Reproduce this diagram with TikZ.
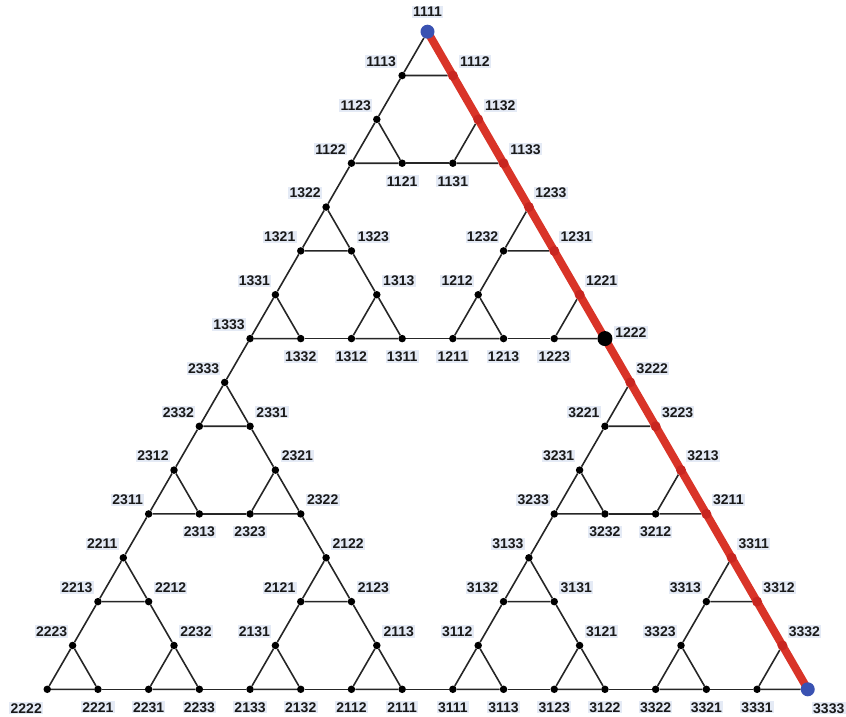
\documentclass[tikz,border=0pt]{standalone}
\usepackage{fontspec}
\setmainfont{Liberation Sans}
\usetikzlibrary{backgrounds}

\definecolor{pathred}{RGB}{217,52,40}
\definecolor{dotred}{RGB}{200,38,32}
\definecolor{endblue}{RGB}{58,82,178}
\definecolor{tagbg}{RGB}{228,234,245}
\definecolor{edgegray}{RGB}{38,38,38}

\begin{document}
\begin{tikzpicture}[
    x=1pt, y=-1pt,
    vtx/.style={circle, fill=black, inner sep=0pt, minimum size=7.5pt},
    vtxR/.style={circle, fill=dotred, inner sep=0pt, minimum size=10pt},
    vtxB/.style={circle, fill=endblue, inner sep=0pt, minimum size=14pt},
    vtxK/.style={circle, fill=black, inner sep=0pt, minimum size=15pt},
    edge/.style={draw=edgegray, line width=1.6pt},
    redpath/.style={draw=pathred, line width=8pt},
    tag/.style={fill=tagbg, text=black!90, inner sep=1.2pt,
                font=\fontsize{14}{14}\selectfont\bfseries},
    tagL/.style={shift={(-21,-14)}},
    tagR/.style={shift={(22,-14)}},
    tagB/.style={shift={(0,18)}},
    tagT/.style={shift={(0,-20)}},
    tagBL/.style={shift={(-21,19)}},
    tagBR/.style={shift={(21,19)}},
    tagE/.style={shift={(26,-6)}}
  ]
  \useasboundingbox (0,0) rectangle (846,717);

  % vertices: name / half-step / row / dot / label side
  \foreach \n/\i/\r/\d/\p in {
      1111/0/0/vtxB/tagT,
      1113/-1/1/vtx/tagL, 1112/1/1/vtxR/tagR,
      1123/-2/2/vtx/tagL, 1132/2/2/vtxR/tagR,
      1122/-3/3/vtx/tagL, 1121/-1/3/vtx/tagB, 1131/1/3/vtx/tagB,
      1133/3/3/vtxR/tagR,
      1322/-4/4/vtx/tagL, 1233/4/4/vtxR/tagR,
      1321/-5/5/vtx/tagL, 1323/-3/5/vtx/tagR, 1232/3/5/vtx/tagL,
      1231/5/5/vtxR/tagR,
      1331/-6/6/vtx/tagL, 1313/-2/6/vtx/tagR, 1212/2/6/vtx/tagL,
      1221/6/6/vtxR/tagR,
      1333/-7/7/vtx/tagL, 1332/-5/7/vtx/tagB, 1312/-3/7/vtx/tagB,
      1311/-1/7/vtx/tagB, 1211/1/7/vtx/tagB, 1213/3/7/vtx/tagB,
      1223/5/7/vtx/tagB, 1222/7/7/vtxK/tagE,
      2333/-8/8/vtx/tagL, 3222/8/8/vtxR/tagR,
      2332/-9/9/vtx/tagL, 2331/-7/9/vtx/tagR, 3221/7/9/vtx/tagL,
      3223/9/9/vtxR/tagR,
      2312/-10/10/vtx/tagL, 2321/-6/10/vtx/tagR, 3231/6/10/vtx/tagL,
      3213/10/10/vtxR/tagR,
      2311/-11/11/vtx/tagL, 2313/-9/11/vtx/tagB, 2323/-7/11/vtx/tagB,
      2322/-5/11/vtx/tagR, 3233/5/11/vtx/tagL, 3232/7/11/vtx/tagB,
      3212/9/11/vtx/tagB, 3211/11/11/vtxR/tagR,
      2211/-12/12/vtx/tagL, 2122/-4/12/vtx/tagR, 3133/4/12/vtx/tagL,
      3311/12/12/vtxR/tagR,
      2213/-13/13/vtx/tagL, 2212/-11/13/vtx/tagR, 2121/-5/13/vtx/tagL,
      2123/-3/13/vtx/tagR, 3132/3/13/vtx/tagL, 3131/5/13/vtx/tagR,
      3313/11/13/vtx/tagL, 3312/13/13/vtxR/tagR,
      2223/-14/14/vtx/tagL, 2232/-10/14/vtx/tagR, 2131/-6/14/vtx/tagL,
      2113/-2/14/vtx/tagR, 3112/2/14/vtx/tagL, 3121/6/14/vtx/tagR,
      3323/10/14/vtx/tagL, 3332/14/14/vtxR/tagR,
      2222/-15/15/vtx/tagBL, 2221/-13/15/vtx/tagB, 2231/-11/15/vtx/tagB,
      2233/-9/15/vtx/tagB, 2133/-7/15/vtx/tagB, 2132/-5/15/vtx/tagB,
      2112/-3/15/vtx/tagB, 2111/-1/15/vtx/tagB, 3111/1/15/vtx/tagB,
      3113/3/15/vtx/tagB, 3123/5/15/vtx/tagB, 3122/7/15/vtx/tagB,
      3322/9/15/vtx/tagB, 3321/11/15/vtx/tagB, 3331/13/15/vtx/tagB,
      3333/15/15/vtxB/tagBR} {
    \node[\d] (v\n) at ({427.5+25.35*\i}, {31.7+43.84*\r}) {};
    \node[tag, \p] (t\n) at (v\n) {\n};
  }

  \begin{pgfonlayer}{background}
    % small triangles
    \foreach \a in {1,2,3}{\foreach \b in {1,2,3}{\foreach \c in {1,2,3}{
      \draw[edge] (v\a\b\c1) -- (v\a\b\c2) -- (v\a\b\c3) -- (v\a\b\c1);
    }}}
    % links between triangles
    \foreach \a in {1,2,3}{\foreach \b in {1,2,3}{
      \foreach \i/\j/\k in {1/2/3, 1/3/2, 2/3/1}
        \draw[edge] (v\a\b\i\k) -- (v\a\b\j\k);
    }}
    \foreach \a in {1,2,3}{
      \foreach \i/\j/\k in {1/2/3, 1/3/2, 2/3/1}
        \draw[edge] (v\a\i\k\k) -- (v\a\j\k\k);
    }
    \foreach \i/\j/\k in {1/2/3, 1/3/2, 2/3/1}
      \draw[edge] (v\i\k\k\k) -- (v\j\k\k\k);
    \draw[redpath] (v1111.center) -- (v3333.center);
  \end{pgfonlayer}
\end{tikzpicture}
\end{document}
